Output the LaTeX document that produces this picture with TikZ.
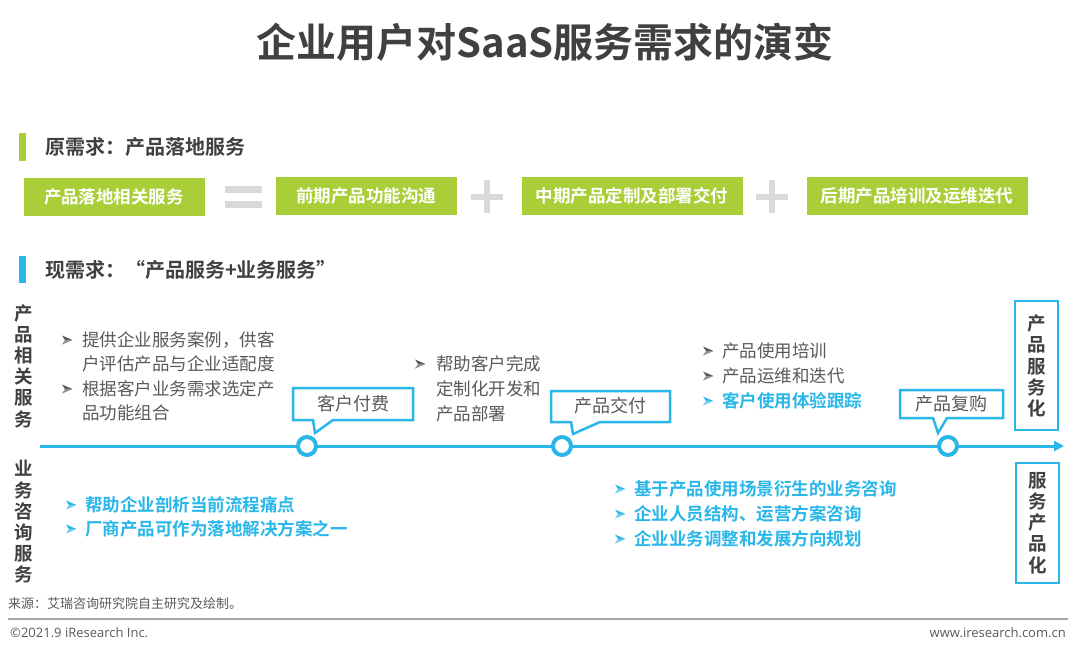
\documentclass[tikz,border=0pt]{standalone}
\usepackage{fontspec}
\setmainfont{Noto Sans CJK SC}[BoldFont={Noto Sans CJK SC Bold}]
\newfontfamily\lat{Open Sans}
\usetikzlibrary{arrows.meta}
\definecolor{lgreen}{RGB}{170,206,56}
\definecolor{tblue}{RGB}{41,182,232}
\definecolor{dgray}{RGB}{64,64,64}
\definecolor{mgray}{RGB}{89,89,89}
\definecolor{lgray}{RGB}{217,217,217}
\definecolor{fgray}{RGB}{166,166,166}
\tikzset{
  gbox/.style={fill=lgreen, draw=white, line width=1pt, minimum height=39pt, inner sep=0pt, text=white, font=\bfseries\fontsize{17.5}{20}\selectfont},
  symbar/.style={fill=lgray},
  head/.style={anchor=west, inner sep=0pt, text=dgray, font=\bfseries\fontsize{20}{24}\selectfont},
  txt/.style={anchor=west, inner sep=0pt, text=mgray, font=\fontsize{17.5}{21}\selectfont},
  btxt/.style={anchor=west, inner sep=0pt, text=tblue, font=\bfseries\fontsize{17.5}{21}\selectfont},
  dart/.pic={
    \fill[pic actions] (-5,-4.5) -- (5.5,0) -- (-5,4.5) -- (-2,0) -- cycle;
    \fill[white, opacity=0.35] (-2,0) -- (5.5,0) -- (-5,4.5) -- cycle;
  },
  vlab/.style={inner sep=0pt, align=center, text=dgray, font=\bfseries\fontsize{18.5}{21.2}\selectfont},
  callout/.style={draw=tblue, line width=2.5pt, fill=white, line join=miter},
  ctxt/.style={inner sep=0pt, text=mgray, font=\fontsize{18}{21}\selectfont},
  milestone/.style={circle, draw=tblue, line width=4pt, fill=white, minimum size=18pt, inner sep=0pt},
  sidebox/.style={draw=tblue, line width=2.5pt, fill=white},
}
\begin{document}
\begin{tikzpicture}[x=1pt,y=-1pt]
\useasboundingbox (0,0) rectangle (1080,653);
% title
\node[inner sep=0pt, text=dgray, font=\bfseries\fontsize{40}{44}\selectfont] (title) at (545,42) {企业用户对SaaS服务需求的演变};
% section 1
\fill[lgreen] (19,133) rectangle (26,161);
\node[head] (h1) at (45,147) {原需求：产品落地服务};
\node[gbox, minimum width=182pt] (g1) at (114,197) {产品落地相关服务};
% equals sign
\fill[symbar] (225,186) rectangle (262,193);
\fill[symbar] (225,201) rectangle (262,208);
\node[gbox, minimum width=182pt] (g2) at (366,196) {前期产品功能沟通};
% plus signs
\fill[symbar] (471,193.5) rectangle (503,199.5);
\fill[symbar] (484,180) rectangle (490,213);
\node[gbox, minimum width=222pt] (g3) at (632,196) {中期产品定制及部署交付};
\fill[symbar] (756,193.5) rectangle (788,199.5);
\fill[symbar] (769,180) rectangle (775,213);
\node[gbox, minimum width=222pt] (g4) at (917,196) {后期产品培训及运维迭代};
% section 2
\fill[tblue] (19,256) rectangle (26,283);
\node[head] (h2) at (45,270) {现需求：“产品服务+业务服务”};
% vertical labels
\node[vlab] (v1) at (24,366) {产\\品\\相\\关\\服\\务};
\node[vlab] (v2) at (24,522) {业\\务\\咨\\询\\服\\务};
% timeline
\coordinate (ts) at (40,446);
\coordinate (te) at (1064,446);
\draw[tblue, line width=3pt, -{Triangle[length=10pt,width=10pt]}] (ts) -- (te);
% callouts
\draw[callout] (293,388) -- (413,388) -- (413,420) -- (333,420) -- (315,433) -- (313,420) -- (293,420) -- cycle;
\node[ctxt] (c1) at (353,404) {客户付费};
\draw[callout] (551,391) -- (670,391) -- (670,422) -- (600,422) -- (573,434) -- (571,422) -- (551,422) -- cycle;
\node[ctxt] (c2) at (610,406) {产品交付};
\draw[callout] (900,390) -- (1003,390) -- (1003,418) -- (947,418) -- (938,433) -- (933,418) -- (900,418) -- cycle;
\node[ctxt] (c3) at (951,404) {产品复购};
% milestones
\node[milestone] (m1) at (307,446) {};
\node[milestone] (m2) at (562,446) {};
\node[milestone] (m3) at (948,446) {};
% side boxes
\draw[sidebox] (1015,301) rectangle (1058,430);
\node[vlab] (s1) at (1036.5,366) {产\\品\\服\\务\\化};
\draw[sidebox] (1016,463) rectangle (1059,583);
\node[vlab] (s2) at (1037.5,523) {服\\务\\产\\品\\化};
% top bullets group 1
\pic[fill=mgray] at (67,340) {dart};
\node[txt] (t11) at (82,340) {提供企业服务案例，供客};
\node[txt] (t12) at (82,364) {户评估产品与企业适配度};
\pic[fill=mgray] at (67,389) {dart};
\node[txt] (t13) at (82,389) {根据客户业务需求选定产};
\node[txt] (t14) at (82,413) {品功能组合};
% group 2
\pic[fill=mgray] at (420,364) {dart};
\node[txt] (t21) at (436,364) {帮助客户完成};
\node[txt] (t22) at (436,389) {定制化开发和};
\node[txt] (t23) at (436,414) {产品部署};
% group 3
\pic[fill=mgray] at (708,351) {dart};
\node[txt] (t31) at (722,351) {产品使用培训};
\pic[fill=mgray] at (708,376) {dart};
\node[txt] (t32) at (722,376) {产品运维和迭代};
\pic[fill=tblue] at (708,401) {dart};
\node[btxt] (t33) at (722,401) {客户使用体验跟踪};
% bottom bullets
\pic[fill=tblue] at (71,505) {dart};
\node[btxt] (u11) at (85,505) {帮助企业剖析当前流程痛点};
\pic[fill=tblue] at (71,529) {dart};
\node[btxt] (u12) at (85,529) {厂商产品可作为落地解决方案之一};
\pic[fill=tblue] at (620,489) {dart};
\node[btxt] (u21) at (634,489) {基于产品使用场景衍生的业务咨询};
\pic[fill=tblue] at (620,514) {dart};
\node[btxt] (u22) at (634,514) {企业人员结构、运营方案咨询};
\pic[fill=tblue] at (620,539) {dart};
\node[btxt] (u23) at (634,539) {企业业务调整和发展方向规划};
% footer
\node[anchor=west, inner sep=0pt, text=mgray, font=\fontsize{13}{15}\selectfont] (src) at (8,604) {来源：艾瑞咨询研究院自主研究及绘制。};
\coordinate (fl) at (8,619);
\coordinate (fr) at (1068,619);
\draw[fgray, line width=1.5pt] (fl) -- (fr);
\node[anchor=west, inner sep=0pt, text=mgray, font=\lat\fontsize{13}{15}\selectfont] (copy) at (10,633) {©2021.9 iResearch Inc.};
\node[anchor=east, inner sep=0pt, text=mgray, font=\lat\fontsize{13}{15}\selectfont] (web) at (1066,633) {www.iresearch.com.cn};
\end{tikzpicture}
\end{document}
